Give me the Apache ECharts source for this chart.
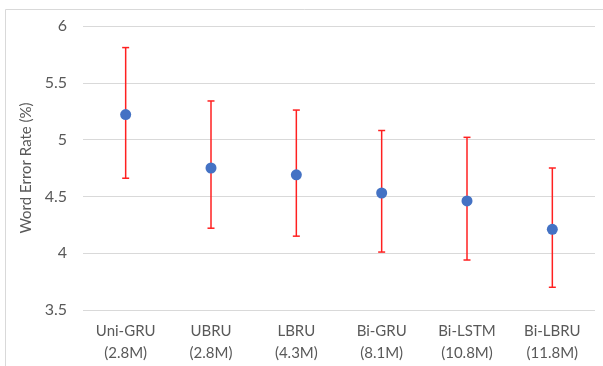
<!DOCTYPE html>
<html>
<head>
<meta charset="utf-8">
<script src="https://cdn.jsdelivr.net/npm/echarts@6/dist/echarts.min.js"></script>
<style>
  html, body { margin: 0; padding: 0; background: #fff; }
  #chart { width: 603px; height: 366px; }
</style>
</head>
<body>
<div id="chart"></div>
<script>
// Model names with parameter counts
const categories = ['Uni-GRU\n(2.8M)', 'UBRU\n(2.8M)', 'LBRU\n(4.3M)', 'Bi-GRU\n(8.1M)', 'Bi-LSTM\n(10.8M)', 'Bi-LBRU\n(11.8M)'];
// Mean word error rate (%)
const werMean = [5.22, 4.75, 4.69, 4.53, 4.46, 4.21];
// Lower and upper ends of the error bars (%)
const werLow = [4.66, 4.22, 4.15, 4.01, 3.94, 3.70];
const werHigh = [5.81, 5.34, 5.26, 5.08, 5.02, 4.75];
// Y axis range and step
const yMin = 3.5, yMax = 6, yStep = 0.5;

const errorData = categories.map((c, i) => [i, werLow[i], werHigh[i]]);

const chart = echarts.init(document.getElementById('chart'));
chart.setOption({
  animation: false,
  backgroundColor: '#ffffff',
  graphic: [{
    type: 'rect',
    shape: { x: 5.5, y: 9.5, width: 640, height: 400 },
    style: { fill: 'none', stroke: '#d9d9d9', lineWidth: 1 },
    z: -10
  }],
  grid: { left: 83, right: 8, top: 26, bottom: 56 },
  xAxis: {
    type: 'category',
    data: categories,
    axisLine: { show: false },
    axisTick: { show: false },
    axisLabel: {
      color: '#595959',
      fontFamily: 'Lato',
      fontSize: 15,
      lineHeight: 22,
      margin: 10
    }
  },
  yAxis: {
    type: 'value',
    min: yMin,
    max: yMax,
    interval: yStep,
    name: 'Word Error Rate (%)',
    nameLocation: 'middle',
    nameGap: 44,
    nameTextStyle: { color: '#595959', fontFamily: 'Lato', fontSize: 15 },
    axisLine: { show: false },
    axisTick: { show: false },
    splitLine: { lineStyle: { color: '#d9d9d9', width: 1 } },
    axisLabel: {
      color: '#595959',
      fontFamily: 'Lato',
      fontSize: 16,
      margin: 16,
      formatter: v => String(parseFloat(v.toFixed(1)))
    }
  },
  series: [
    {
      type: 'custom',
      data: errorData,
      z: 2,
      renderItem: function (params, api) {
        const x = api.value(0);
        const lo = api.coord([x, api.value(1)]);
        const hi = api.coord([x, api.value(2)]);
        const cap = 3.5;
        const style = { stroke: '#ff2020', lineWidth: 1.5 };
        return {
          type: 'group',
          children: [
            { type: 'line', shape: { x1: lo[0], y1: lo[1], x2: hi[0], y2: hi[1] }, style: style },
            { type: 'line', shape: { x1: lo[0] - cap, y1: lo[1], x2: lo[0] + cap, y2: lo[1] }, style: style },
            { type: 'line', shape: { x1: hi[0] - cap, y1: hi[1], x2: hi[0] + cap, y2: hi[1] }, style: style }
          ]
        };
      }
    },
    {
      type: 'scatter',
      data: werMean,
      symbol: 'circle',
      symbolSize: 11,
      z: 3,
      itemStyle: { color: '#4472c4', opacity: 1 }
    }
  ]
});
</script>
</body>
</html>
